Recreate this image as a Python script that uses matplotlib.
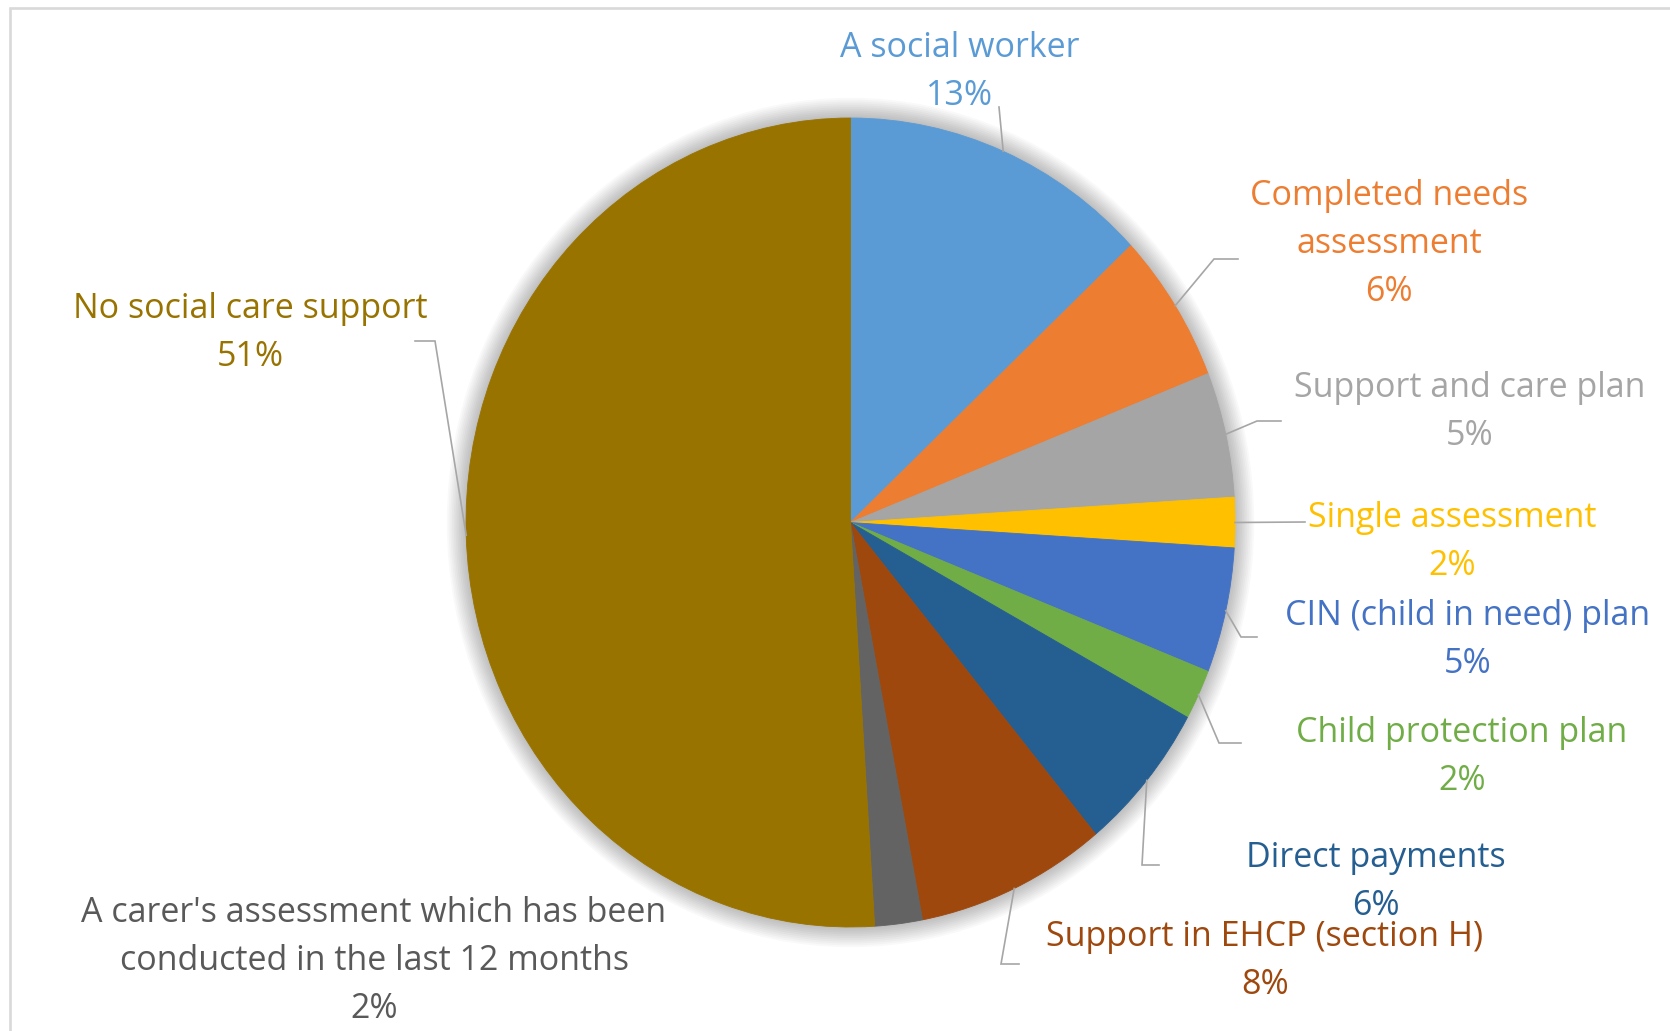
"""
Pie chart of the social care support reported for children in the survey.
"""

import numpy as np
import matplotlib.pyplot as plt
from matplotlib.patches import Ellipse, Rectangle

plt.rcParams["font.family"] = ["Open Sans", "DejaVu Sans"]

categories = [
    "A social worker",
    "Completed needs\nassessment",
    "Support and care plan",
    "Single assessment",
    "CIN (child in need) plan",
    "Child protection plan",
    "Direct payments",
    "Support in EHCP (section H)",
    "A carer's assessment which has been\nconducted in the last 12 months",
    "No social care support",
]
values = [13, 6, 5, 2, 5, 2, 6, 8, 2, 51]

slice_colours = [
    "#5B9BD5", "#ED7D31", "#A5A5A5", "#FFC000", "#4472C4",
    "#70AD47", "#255E91", "#9E480E", "#636363", "#997300",
]
text_colours = slice_colours[:8] + ["#595959", "#997300"]

# canvas layout, in pixels
W, H = 1670, 1031
CX, CY = 850.5, 522.5      # pie centre
RX, RY = 384.5, 404.5      # the pie is a little taller than it is wide

label_centres = [
    (960, 72), (1389, 244), (1470, 412), (1452, 542), (1468, 640),
    (1462, 757), (1376, 882), (1265, 961), (374, 961), (250, 333),
]
leader_bends = [
    [(999, 107)],
    [(1214, 259), (1238, 259)],
    [(1257, 421), (1281, 421)],
    [(1305, 522)],
    [(1241, 637), (1257, 637)],
    [(1219, 743), (1241, 743)],
    [(1142, 865), (1159, 865)],
    [(1001, 964), (1019, 964)],
    [],
    [(435, 341), (415, 341)],
]


def px(x, y):
    """Convert a pixel position to pie data coordinates."""
    return (x - CX) / RX, (CY - y) / RY


fig = plt.figure(figsize=(W / 100, H / 100), dpi=100)
ax = fig.add_axes([0, 0, 1, 1])

# soft shadow round the pie
for s in np.linspace(1.05, 1.0, 12):
    ax.add_patch(Ellipse((0, 0), 2 * s, 2 * s, color="black", alpha=0.022,
                         linewidth=0, zorder=0))

wedges, _ = ax.pie(
    values,
    colors=slice_colours,
    startangle=90,
    counterclock=False,
    radius=1,
)
for w in wedges:
    w.set_edgecolor(w.get_facecolor())
    w.set_linewidth(0.6)
    w.set_zorder(2)

ax.set_aspect("auto")
ax.set_xlim(-CX / RX, (W - CX) / RX)
ax.set_ylim((CY - H) / RY, CY / RY)
ax.axis("off")

for wedge, cat, val, colour, centre, bends in zip(
    wedges, categories, values, text_colours, label_centres, leader_bends
):
    ax.text(*px(*centre), f"{cat}\n{val}%", color=colour, fontsize=24.5,
            ha="center", va="center", multialignment="center",
            linespacing=1.55, zorder=4)
    if bends:
        mid = np.deg2rad((wedge.theta1 + wedge.theta2) / 2)
        xs = [np.cos(mid)] + [px(*b)[0] for b in bends]
        ys = [np.sin(mid)] + [px(*b)[1] for b in bends]
        ax.plot(xs, ys, color="#A6A6A6", linewidth=1.2, zorder=3,
                solid_joinstyle="miter")

# chart area border (top and left edges fall inside the canvas)
fig.add_artist(Rectangle((10 / W, -0.05), 1.0, 1 - 8 / H + 0.05,
                         transform=fig.transFigure, fill=False,
                         edgecolor="#D9D9D9", linewidth=1.9))

fig.savefig("out.png", dpi=100, facecolor="white")
